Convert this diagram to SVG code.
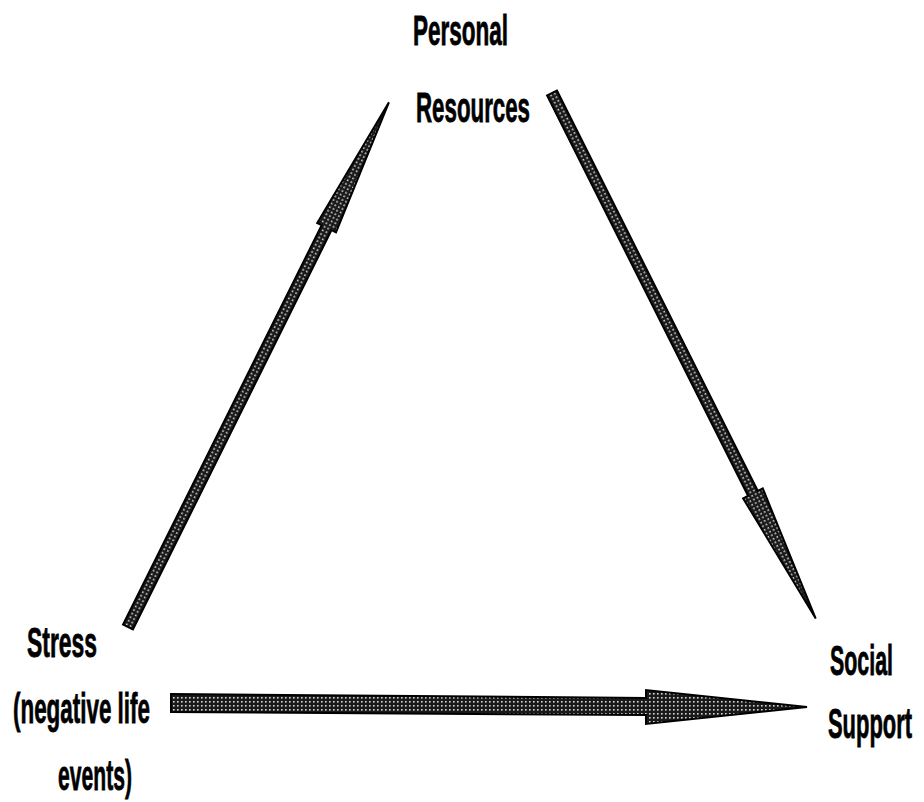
<svg xmlns="http://www.w3.org/2000/svg" width="924" height="802" viewBox="0 0 924 802">
<style>
.lbl{font-family:"Liberation Sans Narrow","Liberation Sans",Arial,sans-serif;font-weight:bold;font-size:43px;fill:#000;stroke:#000;stroke-width:0.8}
.arr{fill:url(#stip);stroke:#000;stroke-width:2;stroke-linejoin:miter}
</style>
<defs>
<pattern id="stip" width="4" height="4" patternUnits="userSpaceOnUse">
<rect width="4" height="4" fill="#1a1a1a"/>
<rect x="1" y="1" width="1.6" height="1.6" fill="#d8d8d8"/>
</pattern>
</defs>
<rect width="924" height="802" fill="#fff"/>
<g id="connectors">
<g id="arrow-stress-personal" transform="translate(128,627) rotate(-63.56)">
<polygon class="arr" points="0,-5.5 446,-5.5 446,-10.5 586,0 446,10.5 446,5.5 0,5.5"/>
</g>
<g id="arrow-personal-social" transform="translate(552,93) rotate(63.35)">
<polygon class="arr" points="0,-5.5 448,-5.5 448,-11 588,0 448,11 448,5.5 0,5.5"/>
</g>
<g id="arrow-stress-social">
<polygon class="arr" points="171,694 646,698 646,690 807,707 646,724 646,715 171,712"/>
</g>
</g>
<g id="node-personal">
<text class="lbl" x="413" y="45" textLength="95" lengthAdjust="spacingAndGlyphs">Personal</text>
<text class="lbl" x="416" y="122" textLength="114" lengthAdjust="spacingAndGlyphs">Resources</text>
</g>
<g id="node-stress">
<text class="lbl" x="27" y="657" textLength="70" lengthAdjust="spacingAndGlyphs">Stress</text>
<text class="lbl" x="13" y="723" textLength="137" lengthAdjust="spacingAndGlyphs">(negative life</text>
<text class="lbl" x="58" y="790" textLength="74" lengthAdjust="spacingAndGlyphs">events)</text>
</g>
<g id="node-social">
<text class="lbl" transform="matrix(0.72,0,0,1,830,675)" x="0" y="0" textLength="87.5" lengthAdjust="spacingAndGlyphs">Social</text>
<text class="lbl" transform="matrix(0.6,0,0,1,828,738)" x="0" y="0" textLength="140" lengthAdjust="spacingAndGlyphs">Support</text>
</g>
</svg>
